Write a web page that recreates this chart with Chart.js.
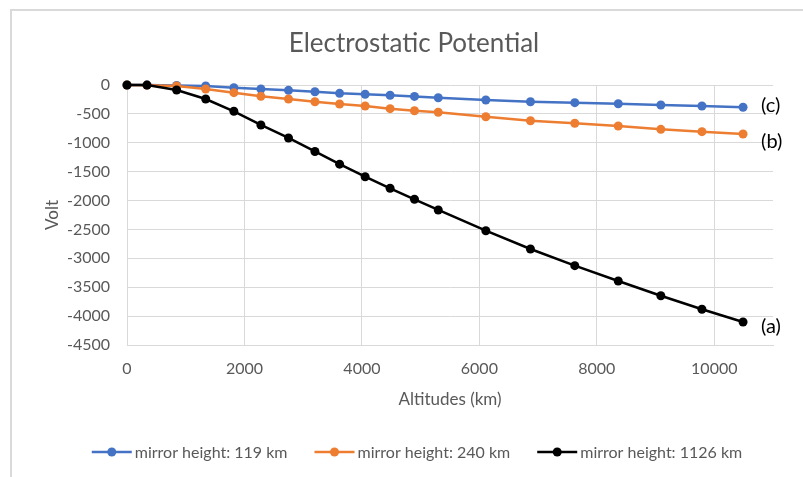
<!DOCTYPE html>
<html lang="en">
<head>
<meta charset="UTF-8" />
<title>Electrostatic Potential</title>
<style>
    html, body { margin: 0; padding: 0; background: #fff; overflow: hidden; }
    .frame {
        position: absolute; left: 10px; top: 9px; width: 900px; height: 520px;
        border-left: 2px solid #d9d9d9; border-top: 2px solid #d9d9d9;
    }
    .chart-box { position: absolute; left: 0; top: 0; width: 803px; height: 477px; }
</style>
</head>
<body>
<div class="frame"></div>
<div class="chart-box"><canvas id="potChart"></canvas></div>

<script src="https://cdn.jsdelivr.net/npm/chart.js"></script>
<script>
    const chartTitle = 'Electrostatic Potential';
    const seriesNames = ['mirror height: 119 km', 'mirror height: 240 km', 'mirror height: 1126 km'];
    const endLabels = ['(c)', '(b)', '(a)'];

    // altitudes (km)
    const altitudes = [0, 340, 845, 1340, 1820, 2280, 2750, 3200, 3620, 4055,
        4480, 4895, 5300, 6110, 6870, 7625, 8365, 9090, 9790, 10490];

    // potential (V)
    const mirror119 = [0, -2, -8, -17, -47, -69, -92, -116, -144, -161,
        -178, -197, -220, -260, -289, -306, -324, -346, -363, -386];
    const mirror240 = [0, -3, -17, -69, -133, -196, -242, -289, -329, -363,
        -410, -445, -472, -549, -618, -663, -710, -767, -808, -848];
    const mirror1126 = [0, -2, -87, -242, -455, -692, -917, -1150, -1370, -1587,
        -1788, -1978, -2163, -2522, -2838, -3127, -3392, -3647, -3882, -4102];

    const xTicks = [0, 2000, 4000, 6000, 8000, 10000];

    const toPoints = vals => vals.map((v, i) => ({ x: altitudes[i], y: v }));

    Chart.defaults.font.family = 'Lato, "Open Sans", sans-serif';
    Chart.defaults.color = '#595959';

    // title, legend and (a)(b)(c) labels
    const extras = {
        id: 'extras',
        afterDraw(chart) {
            const ctx = chart.ctx;
            const xs = chart.scales.x, ys = chart.scales.y;
            ctx.save();

            ctx.font = '26px Lato';
            ctx.fillStyle = '#595959';
            ctx.textAlign = 'center';
            ctx.textBaseline = 'middle';
            ctx.fillText(chartTitle, 414, 44);

            const shift = [-2, 8, 5];
            ctx.font = '20px Lato';
            ctx.fillStyle = '#000';
            ctx.textAlign = 'left';
            chart.data.datasets.forEach((ds, i) => {
                const last = ds.data[ds.data.length - 1];
                const px = xs.getPixelForValue(last.x);
                const py = ys.getPixelForValue(last.y);
                ctx.fillText(endLabels[i], px + 18, py + shift[i]);
            });

            // legend
            ctx.font = '16px Lato';
            const sample = 40, gapText = 3, gapItem = 27, ly = 452;
            const widths = chart.data.datasets.map(ds => sample + gapText + ctx.measureText(ds.label).width);
            const total = widths.reduce((a, b) => a + b, 0) + gapItem * (widths.length - 1);
            let lx = 417 - total / 2;
            chart.data.datasets.forEach((ds, i) => {
                ctx.strokeStyle = ds.borderColor;
                ctx.lineWidth = 2.5;
                ctx.beginPath();
                ctx.moveTo(lx, ly);
                ctx.lineTo(lx + sample, ly);
                ctx.stroke();
                ctx.fillStyle = ds.backgroundColor;
                ctx.beginPath();
                ctx.arc(lx + sample / 2, ly, 4.5, 0, Math.PI * 2);
                ctx.fill();
                ctx.fillStyle = '#595959';
                ctx.textAlign = 'left';
                ctx.fillText(ds.label, lx + sample + gapText, ly + 1);
                lx += widths[i] + gapItem;
            });
            ctx.restore();
        }
    };

    const colors = ['#4472C4', '#ED7D31', '#000000'];
    const seriesVals = [mirror119, mirror240, mirror1126];

    new Chart(document.getElementById('potChart'), {
        type: 'scatter',
        data: {
            datasets: seriesVals.map((vals, i) => ({
                label: seriesNames[i],
                data: toPoints(vals),
                showLine: true,
                clip: false,
                borderColor: colors[i],
                backgroundColor: colors[i],
                borderWidth: 2.5,
                pointRadius: 4.5,
                pointHoverRadius: 4.5,
                pointBorderWidth: 0,
                order: 2 - i
            }))
        },
        options: {
            responsive: true,
            maintainAspectRatio: false,
            animation: false,
            layout: { padding: { left: 38, right: 30, top: 85, bottom: 62 } },
            plugins: {
                legend: { display: false },
                title: { display: false },
                tooltip: { enabled: false }
            },
            scales: {
                x: {
                    type: 'linear',
                    min: 0,
                    max: 11000,
                    afterBuildTicks: s => { s.ticks = xTicks.map(v => ({ value: v })); },
                    afterFit: s => { s.height = 70; },
                    grid: { color: '#d9d9d9', drawTicks: false },
                    border: { color: '#d9d9d9' },
                    ticks: { padding: 14, font: { size: 16 }, color: '#595959', callback: v => String(v) },
                    title: { display: true, text: 'Altitudes (km)', font: { size: 17 }, color: '#595959', padding: { top: 0, bottom: 5 } }
                },
                y: {
                    min: -4500,
                    max: 0,
                    afterFit: s => { s.width = 89; },
                    grid: { color: '#d9d9d9', drawTicks: false },
                    border: { color: '#d9d9d9' },
                    ticks: { stepSize: 500, padding: 17, font: { size: 16 }, color: '#595959', callback: v => String(v) },
                    title: { display: true, text: 'Volt', font: { size: 17 }, color: '#595959', padding: { top: 4, bottom: 0 } }
                }
            }
        },
        plugins: [extras]
    });
</script>
</body>
</html>
